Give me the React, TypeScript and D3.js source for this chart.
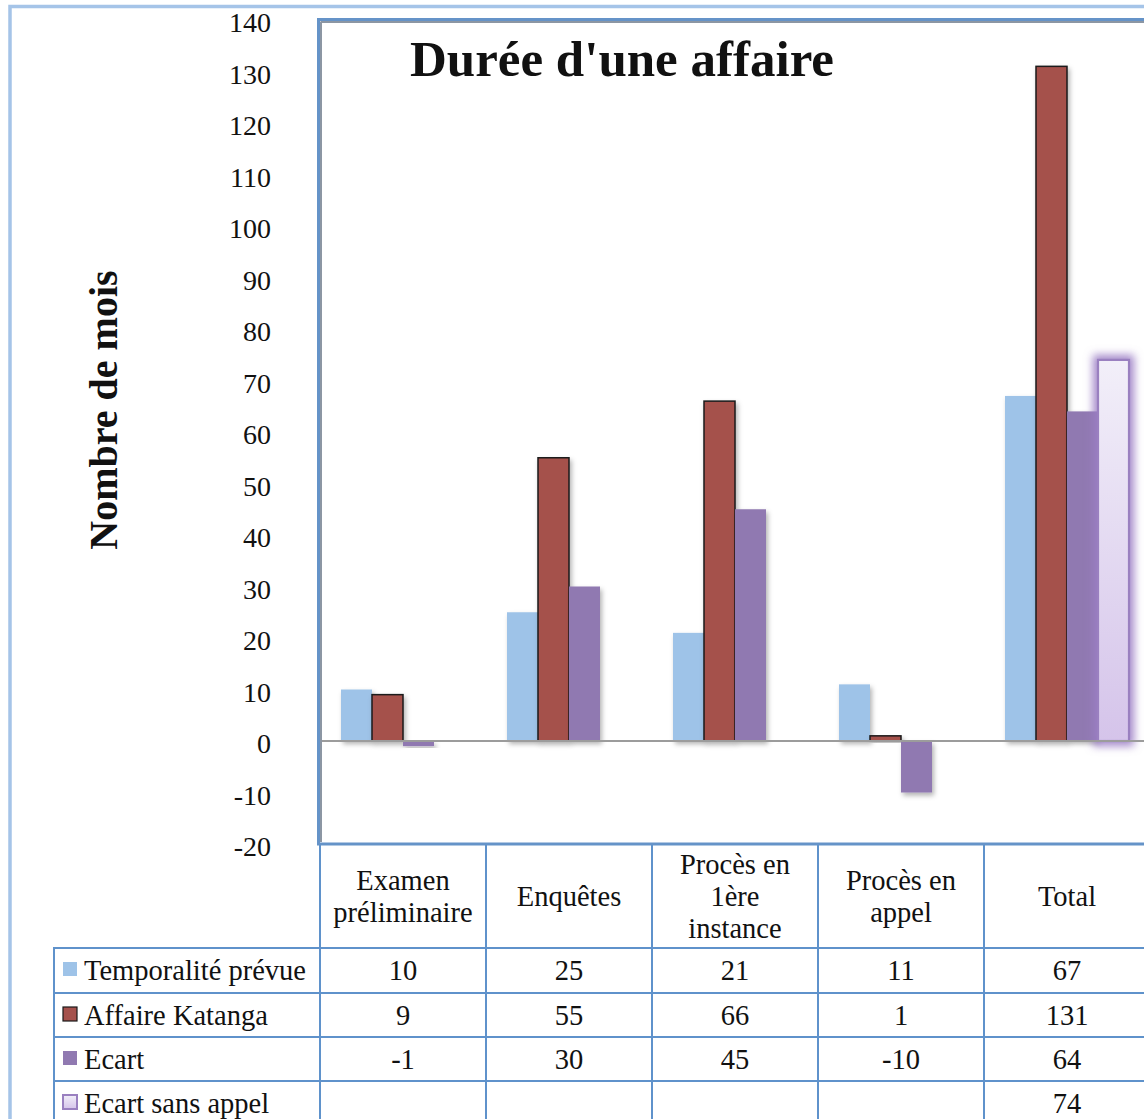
import React from "react";
import * as d3 from "d3";

const categories = ["Examen préliminaire", "Enquêtes", "Procès en 1ère instance", "Procès en appel", "Total"];
const categoryLines = [["Examen", "préliminaire"], ["Enquêtes"], ["Procès en", "1ère", "instance"], ["Procès en", "appel"], ["Total"]];
const seriesNames = ["Temporalité prévue", "Affaire Katanga", "Ecart", "Ecart sans appel"];
const temporalite = [10, 25, 21, 11, 67];
const katanga = [9, 55, 66, 1, 131];
const ecart = [-1, 30, 45, -10, 64];
const ecartSansAppel: (number | null)[] = [null, null, null, null, 74];
const yTicks = [140, 130, 120, 110, 100, 90, 80, 70, 60, 50, 40, 30, 20, 10, 0, -10, -20];
const title = "Durée d'une affaire";
const yTitle = "Nombre de mois";

const seriesValues: (number | null)[][] = [temporalite, katanga, ecart, ecartSansAppel];

const FONT = "'Liberation Serif', 'Times New Roman', serif";
const TABLE_LINE = "#5f92cb";

export default function App() {
  const W = 1144;
  const H = 1119;
  const plotLeft = 320;
  const plotRight = 1150;
  const plotTop = 20;
  const plotBottom = 844;

  const y = d3.scaleLinear().domain([-20, 140]).range([plotBottom, plotTop]);
  const x = d3.scaleBand<string>().domain(categories).range([plotLeft, plotRight]).paddingInner(0).paddingOuter(0);
  const xs = d3
    .scaleBand<string>()
    .domain(seriesNames)
    .range([21, x.bandwidth() - 21])
    .paddingInner(0);

  const fills = ["#9ec3e8", "#a5514c", "#9079b1", "url(#lightGrad)"];
  const strokes = ["none", "#1a1a1a", "none", "#9a80c0"];
  const strokeW = [0, 1.5, 0, 2.2];

  const headerTop = plotBottom;
  const rowTops = [948, 993, 1037, 1081, 1125];
  const legendLeft = 54;
  const TFS = 28.5;

  return (
    <div style={{ position: "absolute", left: 0, top: 0 }}>
      <svg width={W} height={H} style={{ display: "block", background: "#ffffff" }} fontFamily={FONT}>
        <defs>
          <linearGradient id="lightGrad" x1="0" y1="0" x2="0" y2="1">
            <stop offset="0%" stopColor="#f2eff9" />
            <stop offset="100%" stopColor="#d5c4ea" />
          </linearGradient>
          <filter id="shadow" x="-30%" y="-10%" width="160%" height="130%">
            <feDropShadow dx="2" dy="3" stdDeviation="2.5" floodColor="#000" floodOpacity="0.3" />
          </filter>
          <filter id="glow" x="-60%" y="-10%" width="220%" height="125%">
            <feMorphology in="SourceAlpha" operator="dilate" radius="4" result="dil" />
            <feGaussianBlur in="dil" stdDeviation="4" result="blur" />
            <feFlood floodColor="#9a7cc4" floodOpacity="0.9" />
            <feComposite in2="blur" operator="in" result="glowC" />
            <feMerge>
              <feMergeNode in="glowC" />
              <feMergeNode in="SourceGraphic" />
            </feMerge>
          </filter>
        </defs>

        {/* outer border */}
        <rect x={10} y={6.5} width={W + 20} height={H + 20} fill="none" stroke="#a5c4e8" strokeWidth={3.5} />

        {/* y tick labels */}
        {yTicks.map((t) => (
          <text key={t} x={271} y={y(t) + 12} textAnchor="end" fontSize={28} fill="#111">
            {t}
          </text>
        ))}

        {/* y axis title */}
        <text
          transform={`translate(117, 410) rotate(-90)`}
          textAnchor="middle"
          fontSize={40}
          fontWeight="bold"
          fill="#111"
        >
          {yTitle}
        </text>

        {/* plot frame */}
        <rect x={plotLeft - 1.5} y={plotTop - 0.5} width={900} height={plotBottom - plotTop + 0.5} fill="#fff" stroke="#6593c8" strokeWidth={3} />
        <line x1={plotLeft + 1} x2={plotLeft + 1} y1={plotTop + 1.5} y2={plotBottom - 2} stroke="#8c96a3" strokeWidth={2} />
        <line x1={plotLeft + 1} x2={W} y1={plotTop + 2} y2={plotTop + 2} stroke="#8c96a3" strokeWidth={2} />

        {/* title */}
        <text x={622} y={76} textAnchor="middle" fontSize={51} fontWeight="bold" fill="#111">
          {title}
        </text>

        {/* bars */}
        {seriesValues.map((vals, si) =>
          vals.map((v, ci) => {
            if (v === null) return null;
            const bx = (x(categories[ci]) as number) + (xs(seriesNames[si]) as number);
            const bw = xs.bandwidth();
            const y0 = y(Math.max(0, v));
            const h = Math.abs(y(v) - y(0));
            return (
              <rect
                key={`${si}-${ci}`}
                x={bx}
                y={y0}
                width={bw}
                height={h}
                fill={fills[si]}
                stroke={strokes[si]}
                strokeWidth={strokeW[si]}
                filter={si === 3 ? "url(#glow)" : "url(#shadow)"}
              />
            );
          })
        )}

        {/* zero line */}
        <line x1={plotLeft + 2} x2={W} y1={y(0)} y2={y(0)} stroke="#9c9c9c" strokeWidth={2} />

        {/* table */}
        <g>
          {rowTops.slice(0, 4).map((ry) => (
            <line key={ry} x1={legendLeft} x2={W} y1={ry} y2={ry} stroke={TABLE_LINE} strokeWidth={2} />
          ))}
          <line x1={legendLeft} x2={legendLeft} y1={rowTops[0] - 1} y2={H} stroke={TABLE_LINE} strokeWidth={2} />
          {categories.map((c) => (
            <line
              key={c}
              x1={x(c) as number}
              x2={x(c) as number}
              y1={headerTop + 1}
              y2={H}
              stroke={TABLE_LINE}
              strokeWidth={2}
            />
          ))}
          {categoryLines.map((lines, ci) => {
            const cx = (x(categories[ci]) as number) + x.bandwidth() / 2;
            const cy = (headerTop + rowTops[0]) / 2;
            return lines.map((ln, li) => (
              <text
                key={`${ci}-${li}`}
                x={cx}
                y={cy + (li - (lines.length - 1) / 2) * 32 + 10}
                textAnchor="middle"
                fontSize={TFS}
                fill="#111"
              >
                {ln}
              </text>
            ));
          })}
          {seriesNames.map((name, si) => {
            const top = rowTops[si];
            const cy = top + 22;
            return (
              <g key={name}>
                <rect
                  x={63}
                  y={cy - 8}
                  width={14}
                  height={14}
                  fill={fills[si]}
                  stroke={si === 1 ? "#1a1a1a" : si === 3 ? "#9a80c0" : "none"}
                  strokeWidth={si === 3 ? 2 : 1.2}
                />
                <text x={84} y={cy + 10} fontSize={TFS} fill="#111">
                  {name}
                </text>
                {seriesValues[si].map((v, ci) =>
                  v === null ? null : (
                    <text
                      key={ci}
                      x={(x(categories[ci]) as number) + x.bandwidth() / 2}
                      y={cy + 10}
                      textAnchor="middle"
                      fontSize={TFS}
                      fill="#111"
                    >
                      {v}
                    </text>
                  )
                )}
              </g>
            );
          })}
        </g>
      </svg>
    </div>
  );
}
